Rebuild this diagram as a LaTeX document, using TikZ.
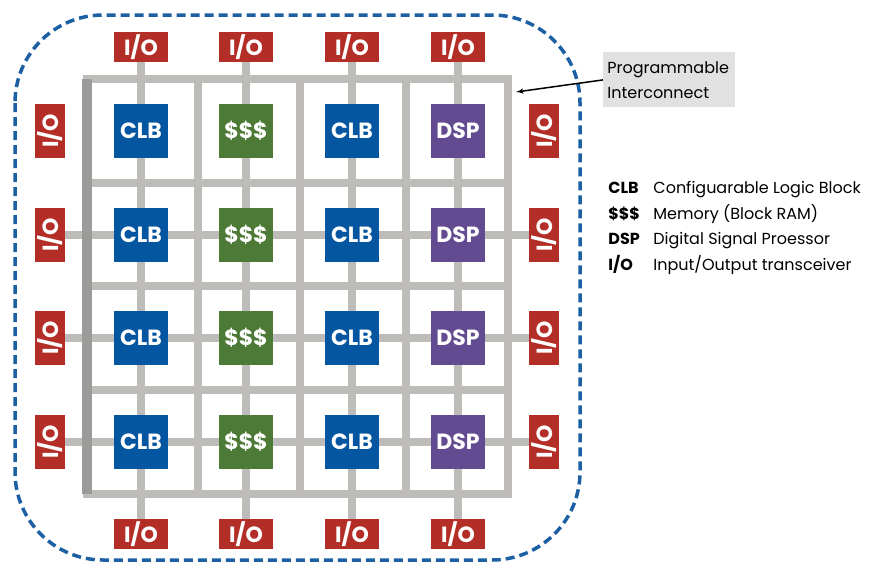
\documentclass[tikz,border=0pt]{standalone}
\usepackage{fontspec}
\setmainfont{Poppins}
\usepackage{tikz}
\usetikzlibrary{shapes, arrows, positioning, calc, backgrounds}

\definecolor{clbblue}{HTML}{0556A0}
\definecolor{memgreen}{HTML}{4E7A37}
\definecolor{dsppurple}{HTML}{634B91}
\definecolor{iored}{HTML}{B32E27}
\definecolor{wiregray}{HTML}{BDBCB9}
\definecolor{edgegray}{HTML}{9B9B99}
\definecolor{chipblue}{HTML}{1C5FA3}
\definecolor{notegray}{HTML}{E1E1E1}

\begin{document}
\begin{tikzpicture}[x=1pt, y=-1pt, >=latex', thick]
        % Stiluri
        \tikzstyle{block} = [rectangle, minimum width=54pt, minimum height=54pt, inner sep=0pt, text=white, font=\bfseries\fontsize{22}{22}\selectfont]
        \tikzstyle{clb} = [block, fill=clbblue]
        \tikzstyle{mem} = [block, fill=memgreen]
        \tikzstyle{dsp} = [block, fill=dsppurple]
        \tikzstyle{io} = [rectangle, fill=iored, minimum width=54pt, minimum height=30pt, inner sep=0pt, text=white, font=\bfseries\fontsize{22}{22}\selectfont]
        \tikzstyle{ioside} = [io, rotate=90]
        \tikzstyle{wire} = [draw=wiregray, line width=8pt]
        \tikzstyle{key} = [anchor=base west, inner sep=0pt, font=\bfseries\fontsize{16}{16}\selectfont]
        \tikzstyle{desc} = [anchor=base west, inner sep=0pt, font=\fontsize{16}{16}\selectfont]

        \useasboundingbox (0,0) rectangle (883,562);

        % Cip FPGA
        \draw [chipblue, line width=3.5pt, dash pattern=on 9pt off 5pt, rounded corners=88pt] (15,15) rectangle (580,560);

        % --- BLOCURI ---
        \node [clb] (clb1) at (141,131) {CLB};
        \node [mem] (mem1) at (246,131) {\$\$\$};
        \node [clb] (clbb1) at (352,131) {CLB};
        \node [dsp] (dsp1) at (458,131) {DSP};

        \node [clb] (clb2) at (141,235) {CLB};
        \node [mem] (mem2) at (246,235) {\$\$\$};
        \node [clb] (clbb2) at (352,235) {CLB};
        \node [dsp] (dsp2) at (458,235) {DSP};

        \node [clb] (clb3) at (141,338) {CLB};
        \node [mem] (mem3) at (246,338) {\$\$\$};
        \node [clb] (clbb3) at (352,338) {CLB};
        \node [dsp] (dsp3) at (458,338) {DSP};

        \node [clb] (clb4) at (141,442) {CLB};
        \node [mem] (mem4) at (246,442) {\$\$\$};
        \node [clb] (clbb4) at (352,442) {CLB};
        \node [dsp] (dsp4) at (458,442) {DSP};

        % --- I/O (Sus si Jos) ---
        \node [io] (io_n1) at (141,47) {I/O};
        \node [io] (io_n2) at (246,47) {I/O};
        \node [io] (io_n3) at (352,47) {I/O};
        \node [io] (io_n4) at (458,47) {I/O};

        \node [io] (io_s1) at (141,534) {I/O};
        \node [io] (io_s2) at (246,534) {I/O};
        \node [io] (io_s3) at (352,534) {I/O};
        \node [io] (io_s4) at (458,534) {I/O};

        % --- I/O (Stanga si Dreapta) ---
        \node [ioside] (io_w1) at (50,131) {I/O};
        \node [ioside] (io_w2) at (50,235) {I/O};
        \node [ioside] (io_w3) at (50,338) {I/O};
        \node [ioside] (io_w4) at (50,442) {I/O};

        \node [ioside] (io_e1) at (544,131) {I/O};
        \node [ioside] (io_e2) at (544,235) {I/O};
        \node [ioside] (io_e3) at (544,338) {I/O};
        \node [ioside] (io_e4) at (544,442) {I/O};

        % --- Interconectare ---
        \coordinate (g_nw) at (83,79);
        \coordinate (g_ne) at (512,79);
        \coordinate (g_sw) at (83,494);
        \coordinate (g_se) at (512,494);

        \begin{scope}[on background layer]
            \draw [wire] (io_n1) -- (io_s1);
            \draw [wire] (io_n2) -- (io_s2);
            \draw [wire] (io_n3) -- (io_s3);
            \draw [wire] (io_n4) -- (io_s4);

            \draw [wire] (io_w2) -- (io_e2);
            \draw [wire] (io_w3) -- (io_e3);
            \draw [wire] (io_w4) -- (io_e4);

            \draw [wire] (g_nw) -- (g_ne);
            \draw [wire] (g_sw) -- (g_se);
            \draw [wire] (508,79) -- (508,494);
            \draw [wire] (198,79) -- (198,494);
            \draw [wire] (300,79) -- (300,494);
            \draw [wire] (406,79) -- (406,494);
            \draw [wire] (87,183) -- (508,183);
            \draw [wire] (87,286) -- (508,286);
            \draw [wire] (87,390) -- (508,390);
            \draw [draw=edgegray, line width=10pt] (87,79) -- (87,494);
        \end{scope}

        % --- Nota ---
        \node [fill=notegray, anchor=north west, text width=124pt, inner xsep=4pt, minimum height=55pt, align=left, font=\fontsize{16}{25}\selectfont] (pi) at (603,52) {Programmable\\Interconnect};
        \coordinate (pi_tip) at (516,92);
        \draw [->, line width=1.5pt] (pi.west) -- (pi_tip);

        % --- Legenda ---
        \node [key] (k_clb) at (608,193) {CLB};
        \node [key] (k_mem) at (608,219) {\$\$\$};
        \node [key] (k_dsp) at (608,244) {DSP};
        \node [key] (k_io) at (608,270) {I/O};
        \node [desc] (d_clb) at (653,193) {Configuarable Logic Block};
        \node [desc] (d_mem) at (653,219) {Memory (Block RAM)};
        \node [desc] (d_dsp) at (653,244) {Digital Signal Proessor};
        \node [desc] (d_io) at (653,270) {Input/Output transceiver};

    \end{tikzpicture}
\end{document}
